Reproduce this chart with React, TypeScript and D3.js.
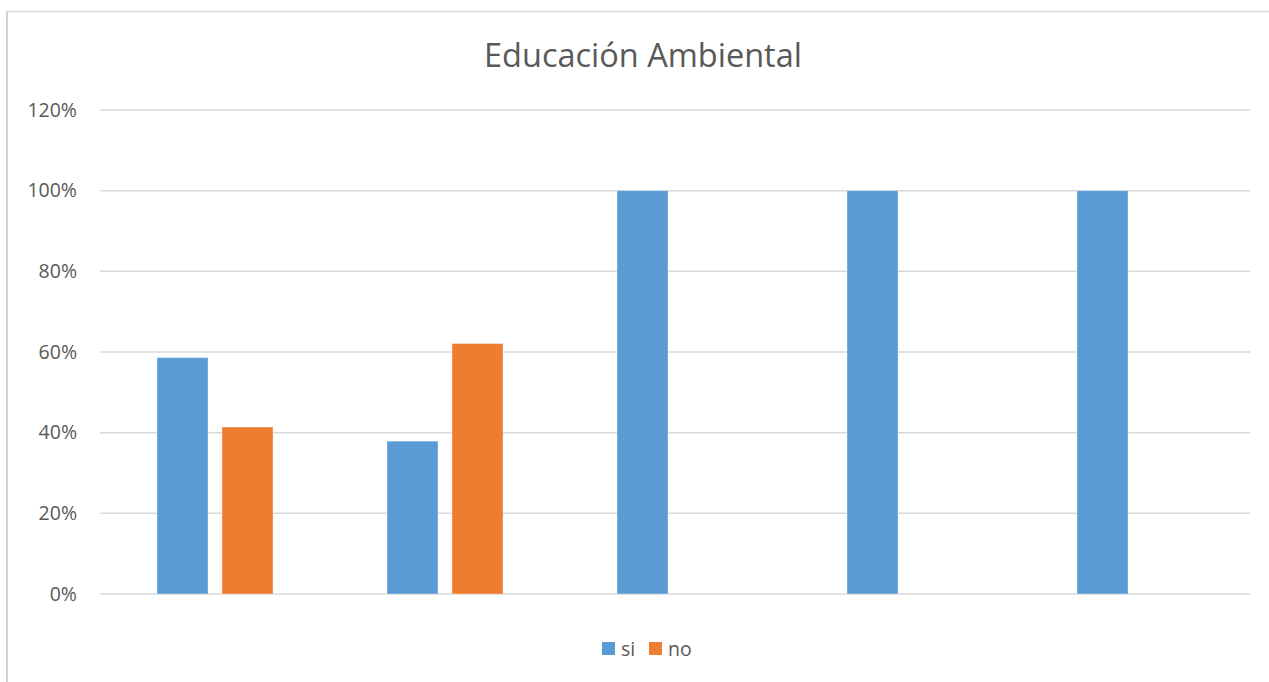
import { useRef, useEffect } from 'react'
import * as d3 from 'd3'

const categories = ['1', '2', '3', '4', '5']
const seriesNames = ['si', 'no']
const siValues = [0.586, 0.379, 1, 1, 1]
const noValues = [0.414, 0.621, 0, 0, 0]
const yTicks = [0, 0.2, 0.4, 0.6, 0.8, 1, 1.2]
const colors = ['#5B9BD5', '#ED7D31']

function App() {
  const containerRef = useRef<HTMLDivElement>(null)

  useEffect(() => {
    if (!containerRef.current) return
    const container = containerRef.current
    container.innerHTML = ''

    const width = 1269
    const height = 682
    const font = "'Open Sans', 'Liberation Sans', sans-serif"

    const svg = d3.select(container)
      .append('svg')
      .attr('width', width)
      .attr('height', height)
      .style('display', 'block')
      .style('font-family', font)

    // chart frame (only top and left edges are inside the picture)
    svg.append('line')
      .attr('x1', 7).attr('x2', 7)
      .attr('y1', 11).attr('y2', height)
      .attr('stroke', '#d0d0d0')
      .attr('stroke-width', 2)
    svg.append('line')
      .attr('x1', 6).attr('x2', width)
      .attr('y1', 11.5).attr('y2', 11.5)
      .attr('stroke', '#d9d9d9')
      .attr('stroke-width', 1.5)

    const plot = { left: 100, right: 1250, top: 110, bottom: 594 }

    const x = d3.scaleBand<string>()
      .domain(categories)
      .range([plot.left, plot.right])

    const inner = d3.scaleBand<string>()
      .domain(seriesNames)
      .range([0, x.bandwidth()])
      .paddingInner(0.215)
      .paddingOuter(0.877)

    const y = d3.scaleLinear()
      .domain([0, 1.2])
      .range([plot.bottom, plot.top])

    // gridlines
    svg.append('g')
      .selectAll('line')
      .data(yTicks)
      .enter()
      .append('line')
      .attr('x1', plot.left)
      .attr('x2', plot.right)
      .attr('y1', d => y(d))
      .attr('y2', d => y(d))
      .attr('stroke', '#d9d9d9')
      .attr('stroke-width', 1.5)

    // y tick labels
    svg.append('g')
      .selectAll('text')
      .data(yTicks)
      .enter()
      .append('text')
      .attr('x', 77)
      .attr('y', d => y(d))
      .attr('dy', '0.35em')
      .attr('text-anchor', 'end')
      .attr('font-size', '19.5px')
      .attr('fill', '#595959')
      .text(d => d3.format('.0%')(d))

    // bars
    const series = [siValues, noValues]
    series.forEach((values, si) => {
      svg.append('g')
        .selectAll('rect')
        .data(values)
        .enter()
        .append('rect')
        .attr('x', (_, i) => x(categories[i])! + inner(seriesNames[si])!)
        .attr('width', inner.bandwidth())
        .attr('y', d => y(d))
        .attr('height', d => y(0) - y(d))
        .attr('fill', colors[si])
        .attr('stroke', d => d > 0 ? 'rgba(255,255,255,0.35)' : 'none')
        .attr('stroke-width', 1)
    })

    // title
    svg.append('text')
      .attr('x', 643)
      .attr('y', 67)
      .attr('text-anchor', 'middle')
      .attr('font-size', '32.5px')
      .attr('fill', '#595959')
      .text('Educación Ambiental')

    // legend
    const legend = svg.append('g').attr('transform', 'translate(602,649)')
    const legendX = [0, 47]
    seriesNames.forEach((name, i) => {
      legend.append('rect')
        .attr('x', legendX[i])
        .attr('y', -7)
        .attr('width', 13)
        .attr('height', 13)
        .attr('fill', colors[i])
      legend.append('text')
        .attr('x', legendX[i] + 19)
        .attr('y', 0)
        .attr('dy', '0.35em')
        .attr('font-size', '19.5px')
        .attr('fill', '#595959')
        .text(name)
    })
  }, [])

  return <div ref={containerRef} style={{ position: 'absolute', left: 0, top: 0 }} />
}

export default App
